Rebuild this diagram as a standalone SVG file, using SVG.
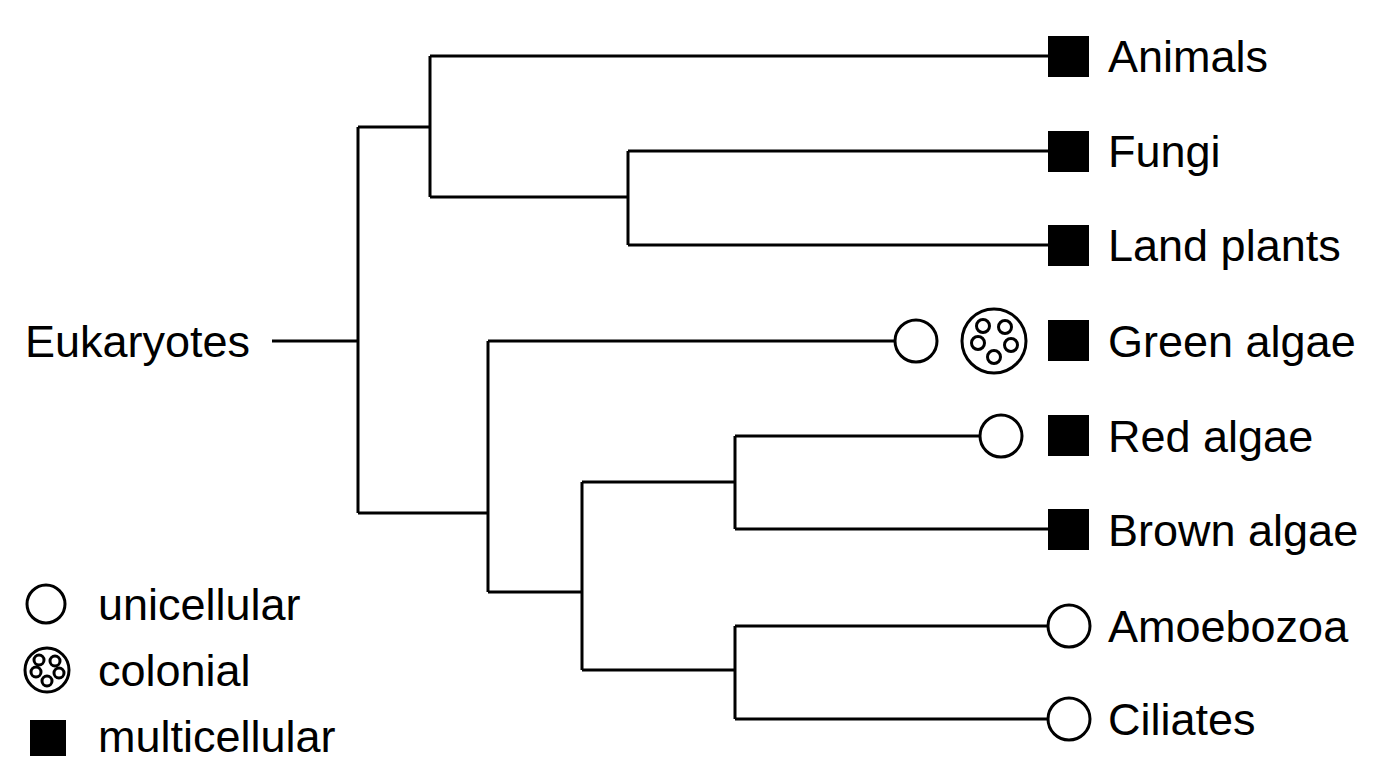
<svg xmlns="http://www.w3.org/2000/svg" width="1376" height="768" viewBox="0 0 1376 768">
<style>
.l{stroke:#000;stroke-width:3;fill:none}
.u{fill:#fff;stroke:#000;stroke-width:3}
.m{fill:#000}
text{font-family:"Liberation Sans",Arial,sans-serif;font-size:45px;fill:#000}
</style>
<defs>
<g id="col"><circle r="32" class="u"/><circle cx="-11" cy="-15" r="6.5" class="u"/><circle cx="11" cy="-14" r="6.5" class="u"/><circle cx="-16" cy="2" r="6.5" class="u"/><circle cx="17" cy="4" r="6.5" class="u"/><circle cx="0" cy="16" r="6.5" class="u"/></g>
</defs>
<rect width="1376" height="768" fill="#fff"/>
<g id="connectors" class="l">
<path d="M272 341H358M358 127V513M358 127H430M430 56V197M430 56H1048M430 197H628M628 151V245M628 151H1048M628 245H1048"/>
<path d="M358 513H488M488 341V592M488 341H895M488 592H582M582 482V670M582 482H735M735 436V529M735 436H980M735 529H1048M582 670H735M735 626V719M735 626H1048M735 719H1048"/>
</g>
<g id="animals"><rect x="1048" y="36" width="41" height="41" class="m"/><text x="1108" y="72">Animals</text></g>
<g id="fungi"><rect x="1048" y="131" width="41" height="41" class="m"/><text x="1108" y="167">Fungi</text></g>
<g id="landplants"><rect x="1048" y="225" width="41" height="41" class="m"/><text x="1108" y="261">Land plants</text></g>
<g id="greenalgae"><circle cx="916" cy="341" r="21" class="u"/><use href="#col" x="994" y="341"/><rect x="1048" y="320" width="41" height="41" class="m"/><text x="1108" y="357">Green algae</text></g>
<g id="redalgae"><circle cx="1001" cy="436" r="21" class="u"/><rect x="1048" y="415" width="41" height="41" class="m"/><text x="1108" y="452">Red algae</text></g>
<g id="brownalgae"><rect x="1048" y="509" width="41" height="41" class="m"/><text x="1108" y="546">Brown algae</text></g>
<g id="amoebozoa"><circle cx="1069" cy="626" r="21" class="u"/><text x="1108" y="642">Amoebozoa</text></g>
<g id="ciliates"><circle cx="1069" cy="719" r="21" class="u"/><text x="1108" y="735">Ciliates</text></g>
<g id="root"><text x="25" y="357">Eukaryotes</text></g>
<g id="legend">
<circle cx="46" cy="604" r="19" class="u"/><text x="98" y="620">unicellular</text>
<g transform="translate(47,670)"><circle r="22" class="u"/><circle cx="-8" cy="-10" r="5" class="u"/><circle cx="8" cy="-9" r="5" class="u"/><circle cx="-11" cy="2" r="5" class="u"/><circle cx="12" cy="3" r="5" class="u"/><circle cx="0" cy="11" r="5" class="u"/></g><text x="98" y="686">colonial</text>
<rect x="30" y="720" width="36" height="36" class="m"/><text x="98" y="752">multicellular</text>
</g>
</svg>
